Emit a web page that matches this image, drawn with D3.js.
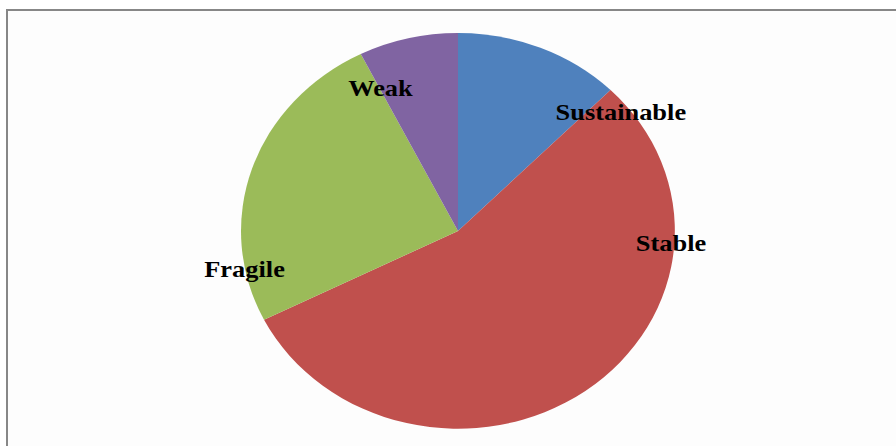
<!DOCTYPE html>
<html><head><meta charset="utf-8">
<script src="https://cdn.jsdelivr.net/npm/d3@7/dist/d3.min.js"></script>
<style>html,body{margin:0;padding:0;background:#fff;}svg{display:block;}</style>
</head><body>
<svg id="c" width="896" height="446"></svg>
<script>
const categories = ["Sustainable", "Stable", "Fragile", "Weak"];
const values = [12.4, 55.2, 25.0, 7.4];
const colors = ["#4f81bd", "#c0504d", "#9bbb59", "#8064a2"];

// layout: label anchors (angle in degrees, radial fraction) in ellipse space, for text baseline centre
const labelLayout = [[53.2, 0.937], [95.9, 0.987], [256.6, 1.011], [332.4, 0.771]];

const svg = d3.select("#c");
svg.append("rect").attr("x", 0).attr("y", 0).attr("width", 896).attr("height", 446).attr("fill", "#fff");
svg.append("rect").attr("x", 7).attr("y", 10).attr("width", 920).attr("height", 460)
  .attr("fill", "#fdfdfd").attr("stroke", "#878787").attr("stroke-width", 2);

const cx = 458, cy = 231, rx = 217, ry = 198;
const pie = d3.pie().sort(null).value(d => d)(values);
const arc = d3.arc().innerRadius(0).outerRadius(1);

const g = svg.append("g").attr("transform", `translate(${cx},${cy}) scale(${rx},${ry})`);
g.selectAll("path").data(pie).join("path")
  .attr("d", arc).attr("fill", (d, i) => colors[i]);

svg.selectAll("text.lbl").data(categories).join("text")
  .attr("class", "lbl")
  .attr("x", (d, i) => cx + rx * labelLayout[i][1] * Math.sin(labelLayout[i][0] * Math.PI / 180))
  .attr("y", (d, i) => cy - ry * labelLayout[i][1] * Math.cos(labelLayout[i][0] * Math.PI / 180))
  .attr("text-anchor", "middle")
  .attr("font-family", "Liberation Serif, Times New Roman, serif")
  .attr("font-weight", "bold").attr("font-size", 24).attr("fill", "#000")
  .text(d => d)
  .each(function () {
    const w = this.getComputedTextLength();
    d3.select(this).attr("textLength", w * 1.1).attr("lengthAdjust", "spacingAndGlyphs");
  });
</script>
</body></html>
